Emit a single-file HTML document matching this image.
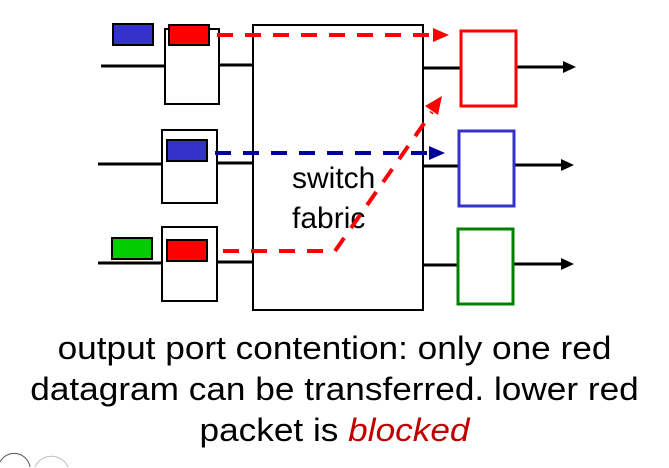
<!DOCTYPE html>
<html><head><style>
html,body{margin:0;padding:0;background:#fff;width:669px;height:468px;overflow:hidden;position:relative}
svg{position:absolute;left:0;top:0}
.cap{position:absolute;left:0;top:328px;width:669px;text-align:center;font-family:"Liberation Sans",sans-serif;font-size:32px;line-height:41px;color:#000;transform:scaleX(1.1);transform-origin:center}
.cap i{color:#c00000}
</style></head><body>
<svg width="669" height="468" viewBox="0 0 669 468">
<g stroke="#000" stroke-width="2" fill="none">
<rect x="253" y="25" width="170" height="285" fill="#fff"/>
<rect x="165" y="29" width="54" height="75" fill="#fff"/>
<rect x="162" y="130" width="55" height="73" fill="#fff"/>
<rect x="162" y="227" width="55" height="74" fill="#fff"/>
</g>
<g stroke="#000" stroke-width="3" fill="none">
<line x1="101" y1="66" x2="165" y2="66"/>
<line x1="219" y1="65" x2="253" y2="65"/>
<line x1="98" y1="164" x2="162" y2="164"/>
<line x1="217" y1="163" x2="253" y2="163"/>
<line x1="98" y1="263" x2="162" y2="263"/>
<line x1="217" y1="262" x2="253" y2="262"/>
<line x1="423" y1="68" x2="461" y2="68"/>
<line x1="423" y1="166" x2="459" y2="166"/>
<line x1="423" y1="265" x2="458" y2="265"/>
<line x1="516" y1="67" x2="565" y2="67"/>
<line x1="514" y1="165" x2="563" y2="165"/>
<line x1="513" y1="264" x2="563" y2="264"/>
</g>
<g fill="#000">
<polygon points="576,67 563,61 563,73"/>
<polygon points="574,165 561,159 561,171"/>
<polygon points="574,264 561,258 561,270"/>
</g>
<rect x="461" y="31" width="55" height="75" fill="none" stroke="#ff0000" stroke-width="3"/>
<rect x="459" y="131" width="55" height="75" fill="none" stroke="#3333cc" stroke-width="3"/>
<rect x="458" y="229" width="55" height="75" fill="none" stroke="#008000" stroke-width="3"/>
<g stroke="#000" stroke-width="2">
<rect x="113" y="24" width="40" height="21" fill="#3333cc"/>
<rect x="169" y="25" width="40" height="20" fill="#ff0000"/>
<rect x="167" y="140" width="40" height="21" fill="#3333cc"/>
<rect x="112" y="238" width="40" height="21" fill="#00cc00"/>
<rect x="167" y="240" width="40" height="21" fill="#ff0000"/>
</g>
<text x="292" y="188" font-family="Liberation Sans,sans-serif" font-size="30">switch</text>
<text x="292" y="228" font-family="Liberation Sans,sans-serif" font-size="30">fabric</text>
<line x1="217" y1="35" x2="430" y2="35" stroke="#ff0000" stroke-width="4" stroke-dasharray="16,12"/>
<polygon points="449,35 433,28 433,42" fill="#ff0000"/>
<line x1="215" y1="153" x2="430" y2="153" stroke="#000099" stroke-width="4" stroke-dasharray="16,12"/>
<polygon points="445,153 429,146 429,160" fill="#000099"/>
<polyline points="223,251 335,251 432,112" fill="none" stroke="#ff0000" stroke-width="4" stroke-dasharray="16,12"/>
<polygon points="442,96 425,106 438,115" fill="#ff0000"/>
<path d="M0,462 A16,16 0 0 1 30,467" fill="none" stroke="#555" stroke-width="1"/>
<path d="M35,467 A18,18 0 0 1 68,467" fill="none" stroke="#bbb" stroke-width="1"/>
</svg>
<div class="cap">output port contention: only one red<br>datagram can be transferred. lower red<br>packet is <i>blocked</i></div>
</body></html>
